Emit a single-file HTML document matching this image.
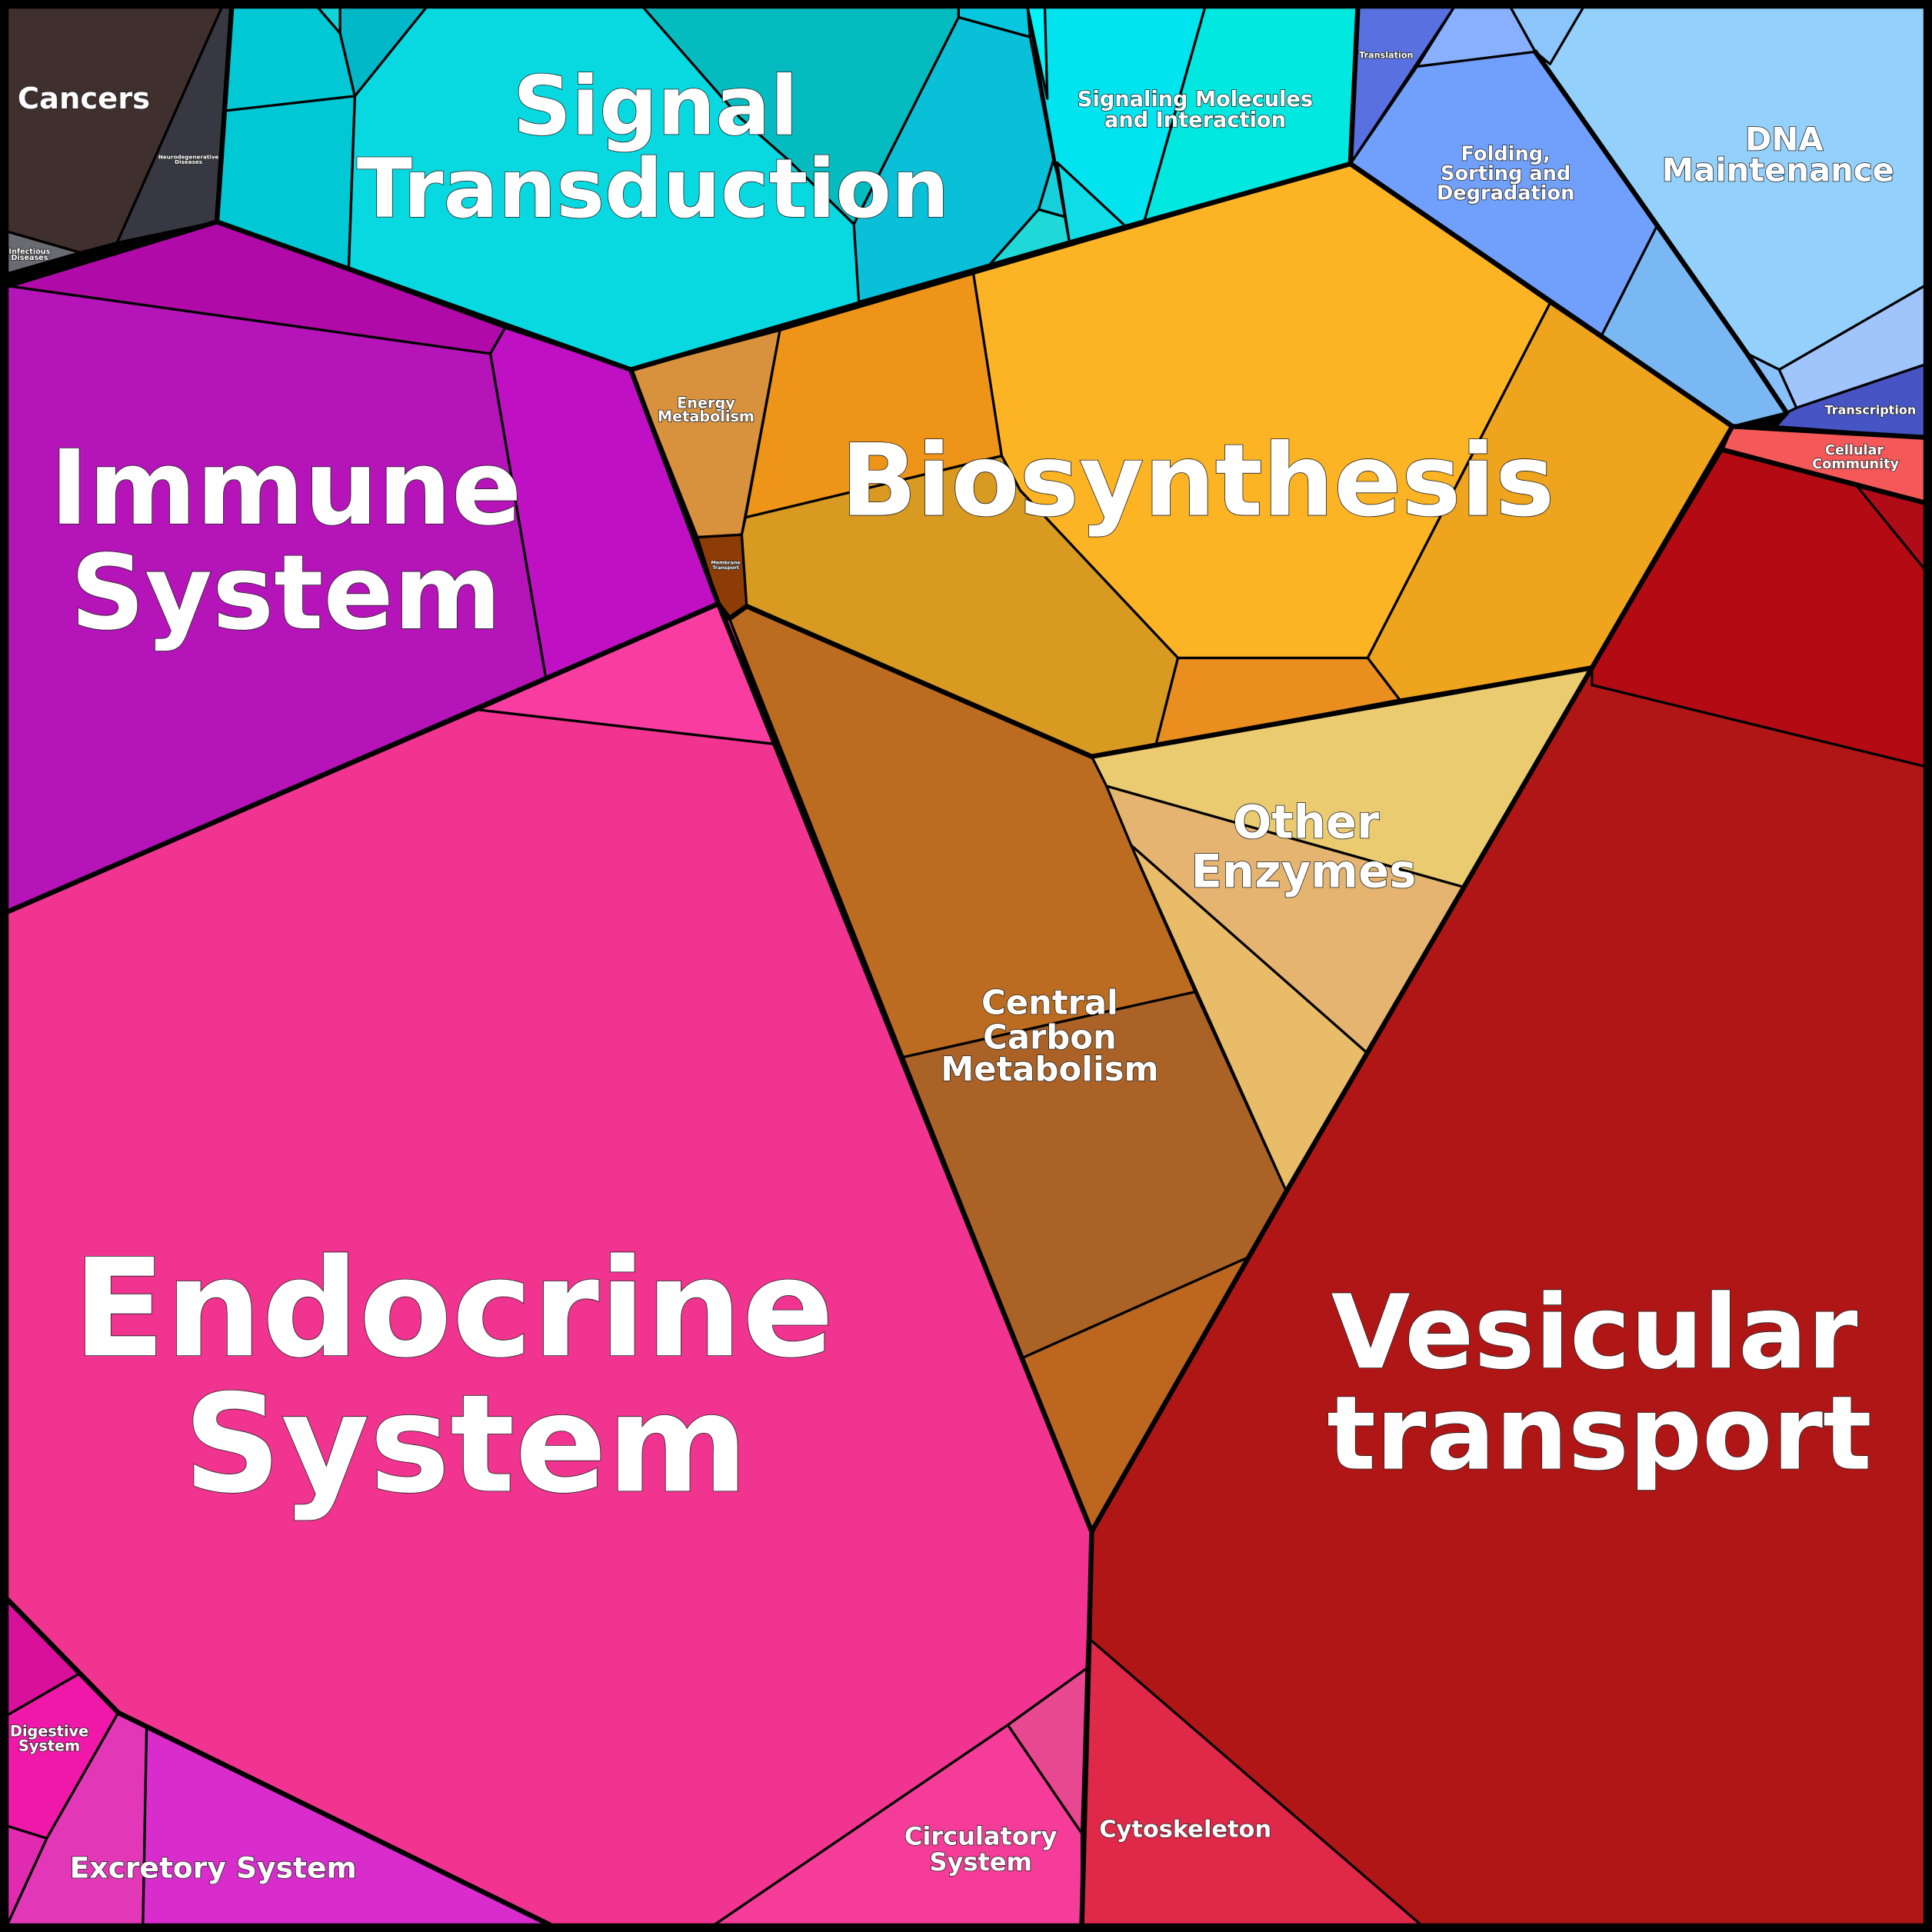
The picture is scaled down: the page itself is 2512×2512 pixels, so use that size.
<!DOCTYPE html>
<html><head><meta charset="utf-8"><style>
html,body{margin:0;padding:0;background:#000}
svg{display:block}
text{font-family:"DejaVu Sans","Liberation Sans",sans-serif;font-weight:bold;fill:#fff;text-anchor:middle;stroke:#222;stroke-width:1;paint-order:stroke;}
</style></head><body>
<svg width="2512" height="2512" viewBox="0 0 1568 1568" xmlns="http://www.w3.org/2000/svg">
<rect width="1568" height="1568" fill="#000"/>
<g stroke="#000" stroke-width="2" stroke-linejoin="round">
<polygon fill="#3f2f2d" points="6,6 180,6 95,197 65,205 6,188"/>
<polygon fill="#383843" points="180,6 188,6 176,180 95,197"/>
<polygon fill="#6a6a72" points="6,188 65,205 6,222"/>
<polygon fill="#08d8e0" points="188,6 834,6 868,197 512,300 176,180"/>
<polygon fill="#00c8d4" points="188,6 258,6 276,27 288,78 182,90"/>
<polygon fill="#00c8d4" points="182,90 288,78 283,218 176,180"/>
<polygon fill="#10d4d8" points="258,6 276,6 276,27"/>
<polygon fill="#00b8c8" points="276,6 346,6 288,78 276,27"/>
<polygon fill="#04bcc0" points="522,6 778,6 778,14 693,182 640,130 600,95"/>
<polygon fill="#0ac0d8" points="778,14 836,30 855,130 843,170 803,215 697,245 693,182"/>
<polygon fill="#08c8e0" points="778,6 834,6 836,30 778,14"/>
<polygon fill="#20d8d8" points="843,170 868,177 868,197 803,215"/>
<polygon fill="#18d0dc" points="855,130 868,177 843,170"/>
<polyline fill="none" points="283,218 288,78"/>
<polygon fill="#00e4f0" points="834,6 978,6 928,182 868,197"/>
<polygon fill="#00e8e0" points="978,6 1102,6 1096,133 928,182"/>
<polygon fill="#10dce8" points="858,132 916,186 868,197"/>
<polygon fill="#00f4f8" points="834,6 848,6 850,80"/>
<polygon fill="#5870e0" points="1102,6 1180,6 1096,133"/>
<polygon fill="#94d0fc" points="1226,6 1562,6 1562,232 1444,300 1418,287 1246,42"/>
<polygon fill="#8cc4fc" points="1226,6 1285,6 1258,52 1246,42"/>
<polygon fill="#88b0ff" points="1180,6 1226,6 1246,42 1150,54"/>
<polygon fill="#70a0fc" points="1150,54 1246,42 1345,183 1300,272 1096,133"/>
<polygon fill="#7ab8f4" points="1345,183 1418,287 1450,335 1406,346 1300,272"/>
<polygon fill="#88c0fc" points="1418,287 1444,300 1458,331 1450,335"/>
<polygon fill="#a0c4fc" points="1444,300 1562,232 1562,296 1458,331"/>
<polygon fill="#4654c4" points="1450,335 1458,331 1562,296 1562,355 1440,346"/>
<polygon fill="#f45858" points="1406,346 1562,355 1562,408 1505,392 1398,365"/>
<polygon fill="#b40a14" points="1398,365 1505,392 1562,460 1562,622 1292,556 1292,542"/>
<polygon fill="#b00c18" points="1505,392 1562,408 1562,462"/>
<polygon fill="#b01616" points="1292,556 1562,622 1562,1562 1153,1562 884,1330 886,1243 1044,967 1292,542"/>
<polygon fill="#e02848" points="884,1330 1153,1562 878,1562"/>
<polygon fill="#d8923e" points="512,300 633,268 602,434 566,436"/>
<polygon fill="#8e3c06" points="566,436 602,434 606,492 592,502 583,490"/>
<polygon fill="#ee9418" points="633,268 790,222 813,370 605,420"/>
<polygon fill="#fcb424" points="790,222 1096,133 1258,246 1110,534 956,534 828,398 813,370"/>
<polygon fill="#eea41c" points="1258,246 1406,346 1292,542 1136,568 1110,534"/>
<polygon fill="#d89a20" points="605,420 813,370 828,398 956,534 938,605 886,614 606,492 602,434"/>
<polygon fill="#ea8e20" points="956,534 1110,534 1136,568 938,605"/>
<polygon fill="#eacb70" points="886,614 1292,542 1188,720 898,638"/>
<polygon fill="#e4b470" points="898,638 1188,720 1110,855 918,686"/>
<polygon fill="#e8bc68" points="918,686 1110,855 1044,967"/>
<polygon fill="#bc6c20" points="592,502 606,492 886,614 898,638 918,686 970,805 733,858"/>
<polygon fill="#aa6226" points="733,858 970,805 1044,967 1014,1020 830,1102"/>
<polygon fill="#bc6620" points="830,1102 1014,1020 886,1243"/>
<polygon fill="#b414b8" points="6,232 398,287 443,550 388,576 6,740"/>
<polygon fill="#b00aa8" points="6,232 176,180 410,266 398,287"/>
<polygon fill="#c010c4" points="410,266 512,300 583,490 443,550 398,287"/>
<polygon fill="#f03490" points="6,740 388,576 630,604 886,1243 882,1354 818,1400 580,1562 446,1562 96,1390 6,1298"/>
<polygon fill="#f83ca0" points="388,576 583,490 592,502 630,604"/>
<polygon fill="#f43c98" points="580,1562 818,1400 878,1488 878,1562"/>
<polygon fill="#e84890" points="818,1400 882,1354 878,1488"/>
<polygon fill="#d8109a" points="6,1298 65,1358 6,1392"/>
<polygon fill="#f018a8" points="6,1392 65,1358 96,1390 38,1492 6,1482"/>
<polygon fill="#e02ab0" points="6,1482 38,1492 6,1562"/>
<polygon fill="#e238b8" points="38,1492 96,1390 119,1402 116,1562 6,1562"/>
<polygon fill="#d82ccc" points="119,1402 446,1562 116,1562"/>
</g>
<g stroke="#000" stroke-width="4" fill="none" stroke-linejoin="round" stroke-linecap="round">
<polyline points="188,6 176,180 6,232"/>
<polyline points="176,180 512,300 868,197 1096,133 1406,346 1562,355"/>
<polyline points="1102,6 1096,133"/>
<polyline points="1246,42 1345,183 1418,287 1450,335 1440,346"/>
<polyline points="1406,346 1292,542 886,614 606,492 592,502 583,490 512,300"/>
<polyline points="583,490 6,740"/>
<polyline points="583,490 886,1243 884,1330 878,1562"/>
<polyline points="1292,542 1044,967 886,1243"/>
<polyline points="1398,365 1562,408"/>
<polyline points="6,1298 96,1390 446,1562"/>
</g>
<rect x="3" y="3" width="1562" height="1562" fill="none" stroke="#000" stroke-width="7"/>
<text x="68" y="88" font-size="24">Cancers</text>
<text x="153" y="129" font-size="4.5" stroke-width="0.3">Neurodegenerative</text>
<text x="153" y="133" font-size="4.5" stroke-width="0.3">Diseases</text>
<text x="24" y="206" font-size="6" stroke-width="0.3">Infectious</text>
<text x="24" y="211" font-size="6" stroke-width="0.3">Diseases</text>
<text x="532" y="109" font-size="66" stroke-width="1.5">Signal</text>
<text x="530" y="176" font-size="66" stroke-width="1.5">Transduction</text>
<text x="970" y="86" font-size="17">Signaling Molecules</text>
<text x="970" y="103" font-size="17">and Interaction</text>
<text x="1125" y="47" font-size="7" stroke-width="0.4">Translation</text>
<text x="1222" y="130" font-size="16">Folding,</text>
<text x="1222" y="146" font-size="16">Sorting and</text>
<text x="1222" y="162" font-size="16">Degradation</text>
<text x="1448" y="122" font-size="26">DNA</text>
<text x="1443" y="147" font-size="26">Maintenance</text>
<text x="1518" y="336" font-size="10" stroke-width="0.5">Transcription</text>
<text x="1505" y="369" font-size="11" stroke-width="0.5">Cellular</text>
<text x="1506" y="380" font-size="11" stroke-width="0.5">Community</text>
<text x="232" y="425" font-size="84" stroke-width="1.5">Immune</text>
<text x="232" y="510" font-size="84" stroke-width="1.5">System</text>
<text x="573" y="331" font-size="12" stroke-width="0.6">Energy</text>
<text x="573" y="342" font-size="12" stroke-width="0.6">Metabolism</text>
<text x="589" y="458" font-size="4" stroke-width="0.2">Membrane</text>
<text x="589" y="462" font-size="4" stroke-width="0.2">Transport</text>
<text x="972" y="418" font-size="81" stroke-width="1.5">Biosynthesis</text>
<text x="1060" y="680" font-size="37">Other</text>
<text x="1058" y="720" font-size="37">Enzymes</text>
<text x="852" y="823" font-size="27">Central</text>
<text x="852" y="851" font-size="27">Carbon</text>
<text x="852" y="877" font-size="27">Metabolism</text>
<text x="368" y="1100" font-size="110" stroke-width="2">Endocrine</text>
<text x="378" y="1210" font-size="110" stroke-width="2">System</text>
<text x="1294" y="1110" font-size="83" stroke-width="1.5">Vesicular</text>
<text x="1298" y="1192" font-size="83" stroke-width="1.5">transport</text>
<text x="40" y="1409" font-size="12" stroke-width="0.6">Digestive</text>
<text x="40" y="1421" font-size="12" stroke-width="0.6">System</text>
<text x="173" y="1524" font-size="23.5">Excretory System</text>
<text x="796" y="1497" font-size="20">Circulatory</text>
<text x="796" y="1518" font-size="20">System</text>
<text x="962" y="1491" font-size="19">Cytoskeleton</text>
</svg>
</body></html>
